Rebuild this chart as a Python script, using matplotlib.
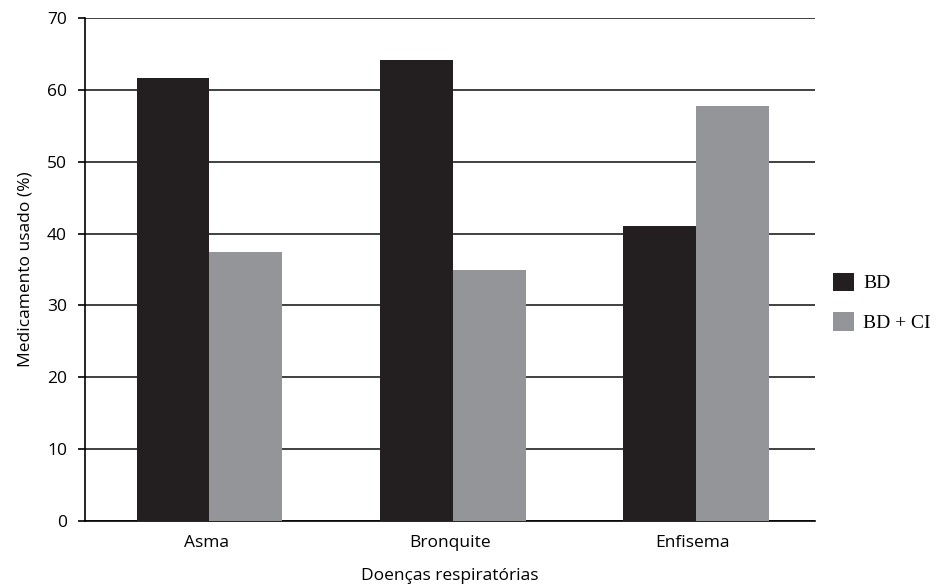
import matplotlib.pyplot as plt
import numpy as np

# values
diseases = ['Asma', 'Bronquite', 'Enfisema']
bd = [61.6, 64.1, 41.0]
bd_ci = [37.5, 34.9, 57.7]
series_names = ['BD', 'BD + CI']

plt.rcParams['font.family'] = ['Open Sans', 'DejaVu Sans']

fig = plt.figure(figsize=(9.39, 5.87), dpi=100)
ax = fig.add_axes([0.0905, 0.1124, 0.777, 0.857])

x = np.arange(len(diseases))
width = 0.3
my_colors = ['#231f20', '#939598']
ax.bar(x - width / 2 + 0.012, bd, width, color=my_colors[0], label=series_names[0], zorder=3)
ax.bar(x + width / 2 + 0.012, bd_ci, width, color=my_colors[1], label=series_names[1], zorder=3)

ax.set_xlim(-0.5, 2.5)
ax.set_ylim(0, 70)
ax.set_yticks(range(0, 71, 10))
ax.yaxis.grid(True, color='#231f20', linewidth=1.2, zorder=0)
ax.set_xticks(x)
ax.set_xticklabels(diseases)
for s in ['top', 'right']:
    ax.spines[s].set_visible(False)
ax.spines['left'].set_linewidth(1.2)
ax.spines['bottom'].set_linewidth(1.2)
ax.tick_params(axis='y', length=5, width=1.2, labelsize=12.5, pad=8)
ax.tick_params(axis='x', length=0, labelsize=12.5, pad=10)

ax.set_ylabel('Medicamento usado (%)', fontsize=12.5, labelpad=10)
ax.set_xlabel('Doenças respiratórias', fontsize=12.5, labelpad=12)

leg = ax.legend(loc='center left', bbox_to_anchor=(1.025, 0.435), frameon=False,
                prop={'family': 'Liberation Serif', 'size': 14},
                handlelength=1.1, handleheight=1.1, labelspacing=1.0,
                handletextpad=0.45, borderpad=0.0, borderaxespad=0.0)

plt.savefig('out.png', dpi=100)
